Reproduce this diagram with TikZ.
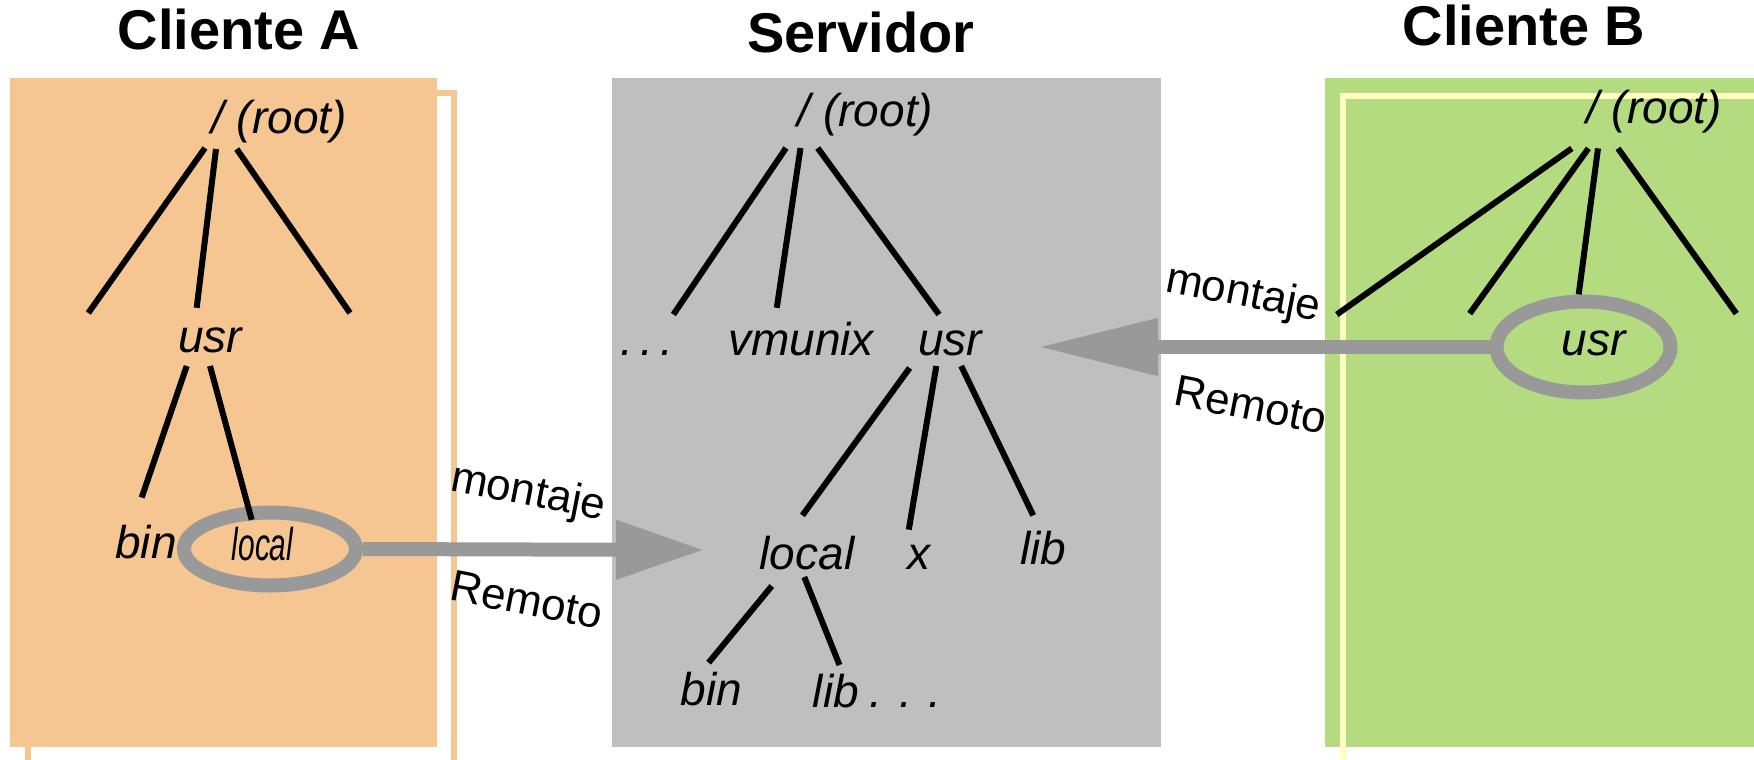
\documentclass[tikz,border=0pt]{standalone}
\usepackage{fontspec}
\setmainfont{Liberation Sans}
\usetikzlibrary{arrows.meta,shapes.geometric}
\definecolor{orangeF}{RGB}{245,198,145}
\definecolor{grayF}{RGB}{191,191,191}
\definecolor{greenF}{RGB}{180,219,127}
\definecolor{yellowL}{RGB}{255,255,192}
\definecolor{arrowG}{RGB}{153,153,153}
\begin{document}
\begin{tikzpicture}[x=1pt,y=-1pt,
  lbl/.style={font=\fontsize{46}{50}\selectfont\itshape, inner sep=0pt, anchor=base},
  ttl/.style={font=\fontsize{56}{60}\selectfont\bfseries, inner sep=0pt, anchor=base},
  mnt/.style={font=\fontsize{44}{48}\selectfont, inner sep=0pt, rotate=-11},
  edge/.style={line width=6pt, black},
  ring/.style={ellipse, draw=arrowG, line width=14pt, inner sep=0pt},
  mountA/.style={draw=arrowG, line width=14pt, -{Triangle[length=88pt,width=56pt]}},
  mountB/.style={draw=arrowG, line width=14pt, -{Triangle[length=120pt,width=54pt]}},
]
\useasboundingbox (0,0) rectangle (1754,760);
\clip (0,0) rectangle (1754,760);
\fill[white] (0,0) rectangle (1754,760);

% panels
\draw[orangeF, line width=6pt] (28,93) rectangle (454,800);
\fill[orangeF] (10,78) rectangle (437,747);
\fill[grayF] (612,78) rectangle (1161,747);
\fill[greenF] (1325,78) rectangle (1780,747);
\draw[yellowL, line width=6pt] (1343,96) rectangle (1800,800);

% titles
\node[ttl] (tA) at (239,50) {Cliente A};
\node[ttl] (tS) at (861,53) {Servidor};
\node[ttl] (tB) at (1524,46) {Cliente B};

% rings
\node[ring, minimum width=172pt, minimum height=73pt] (ellA) at (270,549) {};
\node[ring, minimum width=174pt, minimum height=91pt] (ellB) at (1583.5,347) {};

% Cliente A labels
\node[lbl] (rootA) at (279,133) {/ (root)};
\node[lbl] (usrA) at (210,352) {usr};
\node[lbl] (binA) at (146,558) {bin};
\node[lbl] (localA) at (262.5,560) {\scalebox{0.65}[1]{local}};

% Servidor labels
\node[lbl] (rootS) at (865.5,126) {/ (root)};
\node[lbl] (dotsS) at (647,355) {.\kern7pt.\kern7pt.};
\node[lbl] (vmunixS) at (801,355) {vmunix};
\node[lbl] (usrS) at (950,355) {usr};
\node[lbl] (localS) at (807,569) {local};
\node[lbl] (xS) at (918.5,569) {x};
\node[lbl] (libS) at (1043.5,564) {lib};
\node[lbl] (binS) at (711.5,705) {bin};
\node[lbl] (libS2) at (836,707) {lib};
\node[lbl] (dotsS2) at (905.5,707) {. . .};

% Cliente B labels
\node[lbl] (rootB) at (1654,123) {/ (root)};
\node[lbl] (usrB) at (1593.5,355) {usr};

% mount labels
\node[mnt] (mA) at (528,494) {montaje};
\node[mnt] (rA) at (527,600) {Remoto};
\node[mnt] (mB) at (1243,295) {montaje};
\node[mnt] (rB) at (1251,405) {Remoto};

% arrows
\coordinate (tipA) at (704,550);
\coordinate (tipB) at (1038,347);
\draw[mountA] (ellA.east) -- (tipA);
\draw[mountB] (ellB.west) -- (tipB);

% tree edge end points
\coordinate (a1) at (205,148);   \coordinate (a1e) at (88.3,313);
\coordinate (a2) at (216,149);   \coordinate (a2e) at (196.7,307.8);
\coordinate (a3) at (236.7,149); \coordinate (a3e) at (350,313);
\coordinate (a4) at (186.7,366); \coordinate (a4e) at (141.7,497.5);
\coordinate (a5) at (210,366);   \coordinate (a5e) at (251.7,519.8);

\coordinate (s1) at (786,148);   \coordinate (s1e) at (673.4,314.5);
\coordinate (s2) at (800.5,148); \coordinate (s2e) at (776.8,307.8);
\coordinate (s3) at (817.7,148); \coordinate (s3e) at (939,314.5);
\coordinate (s4) at (909.6,368); \coordinate (s4e) at (802.4,515.4);
\coordinate (s5) at (936.3,366); \coordinate (s5e) at (908.8,529.6);
\coordinate (s6) at (961.2,366); \coordinate (s6e) at (1033.2,515.4);
\coordinate (s7) at (771.8,586); \coordinate (s7e) at (708.6,662.7);
\coordinate (s8) at (804.3,577); \coordinate (s8e) at (839.5,665);

\coordinate (b1) at (1571.8,148.4); \coordinate (b1e) at (1336.8,314.5);
\coordinate (b2) at (1588.4,148.4); \coordinate (b2e) at (1469.7,313.6);
\coordinate (b3) at (1598,148.4);   \coordinate (b3e) at (1578.7,294.4);
\coordinate (b4) at (1618,148.4);   \coordinate (b4e) at (1736.3,313.6);

\foreach \p in {a1,a2,a3,a4,a5,s1,s2,s3,s4,s5,s6,s7,s8,b1,b2,b3,b4}
  \draw[edge] (\p) -- (\p e);
\end{tikzpicture}
\end{document}
